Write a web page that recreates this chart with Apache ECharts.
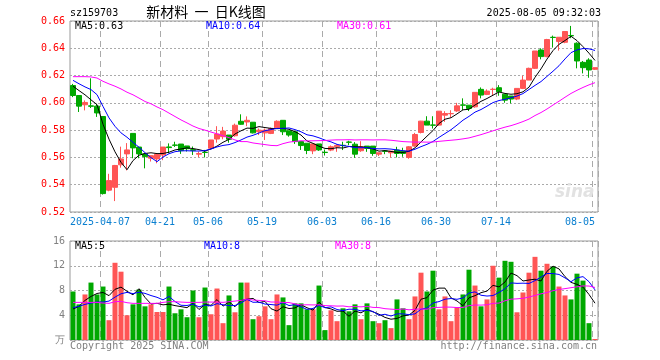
<!DOCTYPE html>
<html><head><meta charset="utf-8">
<script src="https://cdn.jsdelivr.net/npm/echarts@6/dist/echarts.min.js"></script>
<style>html,body{margin:0;padding:0;background:#fff}#c{width:660px;height:360px}</style>
</head><body><div id="c"></div>
<script>
const dates = [
'2025-03-28','2025-03-31','2025-04-01','2025-04-02','2025-04-03',
'2025-04-07','2025-04-08','2025-04-09','2025-04-10','2025-04-11',
'2025-04-14','2025-04-15','2025-04-16','2025-04-17','2025-04-18',
'2025-04-21','2025-04-22','2025-04-23','2025-04-24','2025-04-25',
'2025-04-28','2025-04-29','2025-04-30',
'2025-05-06','2025-05-07','2025-05-08','2025-05-09',
'2025-05-12','2025-05-13','2025-05-14','2025-05-15','2025-05-16',
'2025-05-19','2025-05-20','2025-05-21','2025-05-22','2025-05-23',
'2025-05-26','2025-05-27','2025-05-28','2025-05-29','2025-05-30',
'2025-06-03','2025-06-04','2025-06-05','2025-06-06',
'2025-06-09','2025-06-10','2025-06-11','2025-06-12','2025-06-13',
'2025-06-16','2025-06-17','2025-06-18','2025-06-19','2025-06-20',
'2025-06-23','2025-06-24','2025-06-25','2025-06-26','2025-06-27',
'2025-06-30','2025-07-01','2025-07-02','2025-07-03','2025-07-04',
'2025-07-07','2025-07-08','2025-07-09','2025-07-10','2025-07-11',
'2025-07-14','2025-07-15','2025-07-16','2025-07-17','2025-07-18',
'2025-07-21','2025-07-22','2025-07-23','2025-07-24','2025-07-25',
'2025-07-28','2025-07-29','2025-07-30','2025-07-31','2025-08-01',
'2025-08-04','2025-08-05'];

const openP = [
0.6127,0.6054,0.5986,0.5978,0.5976,0.5900,0.5360,0.5381,0.5546,0.5626,
0.5776,0.5676,0.5626,0.5594,0.5589,0.5618,0.5677,0.5691,0.5698,0.5684,
0.5657,0.5624,0.5638,0.5667,0.5735,0.5752,0.5764,0.5759,0.5865,0.5860,
0.5858,0.5788,0.5780,0.5776,0.5817,0.5872,0.5795,0.5788,0.5716,0.5704,
0.5648,0.5699,0.5638,0.5654,0.5678,0.5689,0.5713,0.5697,0.5649,0.5683,
0.5683,0.5624,0.5647,0.5634,0.5654,0.5646,0.5600,0.5683,0.5783,0.5866,
0.5838,0.5837,0.5910,0.5920,0.5941,0.5985,0.5983,0.5971,0.6099,0.6062,
0.6098,0.6111,0.6064,0.6050,0.6028,0.6106,0.6167,0.6253,0.6388,0.6339,
0.6481,0.6449,0.6444,0.6494,0.6437,0.6297,0.6314,0.6246];
const closeP = [
0.6054,0.5976,0.6003,0.5975,0.5926,0.5335,0.5430,0.5541,0.5589,0.5655,
0.5670,0.5626,0.5606,0.5613,0.5623,0.5676,0.5672,0.5689,0.5650,0.5664,
0.5652,0.5628,0.5636,0.5728,0.5771,0.5793,0.5733,0.5836,0.5843,0.5872,
0.5780,0.5800,0.5800,0.5812,0.5865,0.5788,0.5764,0.5716,0.5687,0.5651,
0.5699,0.5655,0.5636,0.5678,0.5688,0.5687,0.5711,0.5624,0.5678,0.5666,
0.5629,0.5634,0.5645,0.5646,0.5629,0.5629,0.5678,0.5768,0.5866,0.5837,
0.5836,0.5939,0.5922,0.5922,0.5978,0.5983,0.5959,0.6077,0.6057,0.6086,
0.6100,0.6082,0.6020,0.6028,0.6106,0.6167,0.6253,0.6380,0.6339,0.6464,
0.6479,0.6481,0.6523,0.6491,0.6307,0.6258,0.6241,0.6258];
const lowP = [
0.6042,0.5933,0.5945,0.5962,0.5897,0.5328,0.5352,0.5280,0.5525,0.5505,
0.5594,0.5594,0.5520,0.5570,0.5557,0.5580,0.5630,0.5677,0.5626,0.5643,
0.5618,0.5602,0.5600,0.5660,0.5708,0.5733,0.5708,0.5752,0.5839,0.5829,
0.5776,0.5764,0.5728,0.5771,0.5812,0.5764,0.5752,0.5699,0.5655,0.5624,
0.5624,0.5648,0.5614,0.5646,0.5641,0.5654,0.5690,0.5597,0.5641,0.5641,
0.5612,0.5610,0.5624,0.5600,0.5600,0.5605,0.5590,0.5678,0.5776,0.5837,
0.5812,0.5832,0.5861,0.5893,0.5934,0.5947,0.5940,0.5964,0.6033,0.6057,
0.6057,0.6052,0.6001,0.5996,0.6020,0.6101,0.6167,0.6248,0.6319,0.6334,
0.6405,0.6383,0.6437,0.6474,0.6253,0.6216,0.6184,0.6241];
const highP = [
0.6139,0.6054,0.6018,0.6180,0.5993,0.5900,0.5480,0.5545,0.5679,0.5705,
0.5776,0.5676,0.5626,0.5613,0.5623,0.5676,0.5703,0.5715,0.5698,0.5684,
0.5680,0.5643,0.5655,0.5728,0.5829,0.5824,0.5764,0.5848,0.5916,0.5901,
0.5858,0.5812,0.5812,0.5819,0.5872,0.5872,0.5795,0.5788,0.5716,0.5704,
0.5699,0.5699,0.5658,0.5688,0.5697,0.5715,0.5722,0.5712,0.5719,0.5683,
0.5683,0.5634,0.5654,0.5646,0.5678,0.5671,0.5683,0.5780,0.5868,0.5902,
0.5902,0.5940,0.5939,0.5946,0.6000,0.6033,0.5983,0.6077,0.6113,0.6099,
0.6111,0.6130,0.6064,0.6050,0.6106,0.6199,0.6258,0.6380,0.6400,0.6469,
0.6493,0.6481,0.6523,0.6564,0.6444,0.6307,0.6327,0.6258];
const volume = [
7.84,5.76,7.36,9.28,7.36,8.64,3.20,12.48,11.04,4.00,
5.76,8.16,5.44,5.76,4.53,4.53,8.64,4.32,4.96,3.68,
8.00,3.68,8.48,4.16,8.32,2.72,7.20,4.48,9.28,9.28,
3.36,3.84,5.44,3.36,7.36,6.88,2.40,5.92,5.92,4.96,
4.96,8.80,1.60,4.80,3.04,5.12,4.64,5.76,3.36,5.92,
3.04,2.72,3.20,1.92,6.56,5.12,3.36,7.04,10.88,7.84,
11.20,4.96,7.04,3.04,5.28,7.36,11.36,8.80,5.44,6.56,
12.00,10.08,12.80,12.64,4.48,7.68,10.88,13.44,11.20,12.32,
11.84,8.64,7.20,6.56,10.72,9.60,2.72,0.16];

// moving-average values at the left edge (window reaches before the first visible day)
const priceMa5Head = [0.6122,0.6090,0.6059,0.6022];
const priceMa10Head = [0.6165,0.6140,0.6117,0.6097,0.6060,0.5974,0.5890,0.5828,0.5780];
const priceMa30Head = [0.6192,0.6192,0.6192,0.6190,0.6182,0.6158,0.6139,0.6122,0.6102,0.6078,
  0.6059,0.6035,0.6010,0.5993,0.5970,0.5950,0.5925,0.5900,0.5875,0.5853,
  0.5830,0.5812,0.5800,0.5786,0.5773,0.5759,0.5745,0.5728,0.5716];
const volMa5Head = [5.00,5.44,6.40,7.04];
const volMa10Head = [5.23,5.44,5.76,5.97,6.13,6.13,6.29,6.93,7.47];
const volMa30Head = [6.08,6.08,6.08,6.08,6.08,5.97,5.92,6.19,6.24,6.03,
  5.92,5.92,5.92,5.92,5.92,6.08,6.19,6.19,6.13,6.08,
  6.08,6.08,6.13,6.13,6.13,6.08,6.19,6.29,6.40];

const axisDates = ['2025-04-07','2025-04-21','2025-05-06','2025-05-19','2025-06-03','2025-06-16','2025-06-30','2025-07-14','2025-08-05'];
const priceTicks = {min:0.52, max:0.66, step:0.02};
const volTicks = {min:0, max:16, step:4};
const maLabelsPrice = ['MA5:0.63','MA10:0.64','MA30:0.61'];
const maLabelsVol = ['MA5:5','MA10:8','MA30:8'];

const UP = '#ff5555', DOWN = '#00a800';
const MONO = '"DejaVu Sans Mono", "Liberation Mono", monospace';

function movingAvg(vals, n, head){
  return vals.map((v,i)=>{
    if (i < head.length) return head[i];
    let s = 0; for (let k=i-n+1;k<=i;k++) s += vals[k];
    return +(s/n).toFixed(4);
  });
}
const marked = new Set(axisDates);
const lastDate = dates[dates.length-1];

const candle = dates.map((d,i)=>[openP[i], closeP[i], lowP[i], highP[i]]);
const volData = volume.map((v,i)=>({value:v, itemStyle:{color: closeP[i]>=openP[i]?UP:DOWN}}));

const chart = echarts.init(document.getElementById('c'), null, {renderer:'canvas'});
const gridLine = {show:true, interval:(i,v)=>marked.has(v), lineStyle:{color:'#aaaaaa', type:[6,4], width:1}};
const hLine = {show:true, lineStyle:{color:'#aaaaaa', type:[2,2], width:1}};

function maSeries(name, data, color, xi, yi){
  return {name, type:'line', data, xAxisIndex:xi, yAxisIndex:yi, symbol:'none', smooth:false,
    lineStyle:{color, width:1}, itemStyle:{color}, z:5, silent:true};
}

chart.setOption({
  animation:false,
  backgroundColor:'#ffffff',
  grid:[
    {left:70, right:62, top:21, height:191, show:true, borderColor:'#999999', borderWidth:1, backgroundColor:'#ffffff'},
    {left:70, right:62, top:241, height:99, show:true, borderColor:'#999999', borderWidth:1, backgroundColor:'#ffffff'}
  ],
  xAxis:[
    {type:'category', data:dates, gridIndex:0, boundaryGap:true,
     axisLine:{show:false}, axisTick:{show:false}, splitLine:gridLine,
     axisLabel:{interval:(i,v)=>marked.has(v), margin:5, color:'#0a7fd0',
       fontFamily:MONO, fontSize:10, alignMaxLabel:'right',
       formatter:(v)=> v===axisDates[0] ? '{n|'+v+'}' : (v===lastDate ? '{l|'+v.slice(5)+'}' : '{n|'+v.slice(5)+'}'),
       rich:{n:{padding:[0,6,0,0], color:'#0a7fd0', fontFamily:MONO, fontSize:10}, l:{padding:[0,0,0,0], color:'#0a7fd0', fontFamily:MONO, fontSize:10}}}},
    {type:'category', data:dates, gridIndex:1, boundaryGap:true,
     axisLine:{show:false}, axisTick:{show:false}, splitLine:gridLine, axisLabel:{show:false}}
  ],
  yAxis:[
    {type:'value', gridIndex:0, min:priceTicks.min, max:priceTicks.max, interval:priceTicks.step, scale:true,
     axisLine:{show:false}, axisTick:{show:false}, splitLine:hLine,
     axisLabel:{color:'#ff0000', fontFamily:MONO, fontSize:10, margin:5, formatter:(v)=>v.toFixed(2)}},
    {type:'value', gridIndex:1, min:volTicks.min, max:volTicks.max, interval:volTicks.step,
     axisLine:{show:false}, axisTick:{show:false}, splitLine:hLine,
     axisLabel:{color:'#808080', fontFamily:MONO, fontSize:10, margin:5, formatter:(v)=> v===0 ? '万' : String(v)}}
  ],
  series:[
    {type:'candlestick', data:candle, xAxisIndex:0, yAxisIndex:0, barWidth:5, z:3,
     itemStyle:{color:UP, color0:DOWN, borderColor:UP, borderColor0:DOWN, borderWidth:1}},
    maSeries('MA5', movingAvg(closeP,5,priceMa5Head), '#000000', 0, 0),
    maSeries('MA10', movingAvg(closeP,10,priceMa10Head), '#0000ff', 0, 0),
    maSeries('MA30', movingAvg(closeP,30,priceMa30Head), '#ff00ff', 0, 0),
    {type:'bar', data:volData, xAxisIndex:1, yAxisIndex:1, barWidth:5, z:3},
    maSeries('VMA5', movingAvg(volume,5,volMa5Head), '#000000', 1, 1),
    maSeries('VMA10', movingAvg(volume,10,volMa10Head), '#0000ff', 1, 1),
    maSeries('VMA30', movingAvg(volume,30,volMa30Head), '#ff00ff', 1, 1)
  ],
  graphic:[
    {type:'text', left:70, top:8, style:{text:'sz159703', font:'10px '+MONO, fill:'#000'}},
    {type:'text', x:206, y:5, style:{text:'新材料  一  日K线图', font:'14px "Noto Sans CJK SC"', fill:'#000', textAlign:'center'}},
    {type:'text', right:59, top:8, style:{text:'2025-08-05 09:32:03', font:'10px '+MONO, fill:'#000'}},
    {type:'text', left:75, top:21, z:10, style:{text:maLabelsPrice[0], font:'10px '+MONO, fill:'#000000'}},
    {type:'text', left:206, top:21, z:10, style:{text:maLabelsPrice[1], font:'10px '+MONO, fill:'#0000ff'}},
    {type:'text', left:337, top:21, z:10, style:{text:maLabelsPrice[2], font:'10px '+MONO, fill:'#ff00ff'}},
    {type:'text', left:75, top:241, z:10, style:{text:maLabelsVol[0], font:'10px '+MONO, fill:'#000000'}},
    {type:'text', left:204, top:241, z:10, style:{text:maLabelsVol[1], font:'10px '+MONO, fill:'#0000ff'}},
    {type:'text', left:335, top:241, z:10, style:{text:maLabelsVol[2], font:'10px '+MONO, fill:'#ff00ff'}},
    {type:'text', left:555, top:184, z:1, style:{text:'sina', font:'italic bold 17px "DejaVu Sans"', fill:'#e2e2e2'}},
    {type:'text', left:70, top:341, style:{text:'Copyright 2025 SINA.COM', font:'10px '+MONO, fill:'#808080'}},
    {type:'text', right:63, top:341, style:{text:'http://finance.sina.com.cn', font:'10px '+MONO, fill:'#808080'}}
  ]
});
</script>
</body></html>
